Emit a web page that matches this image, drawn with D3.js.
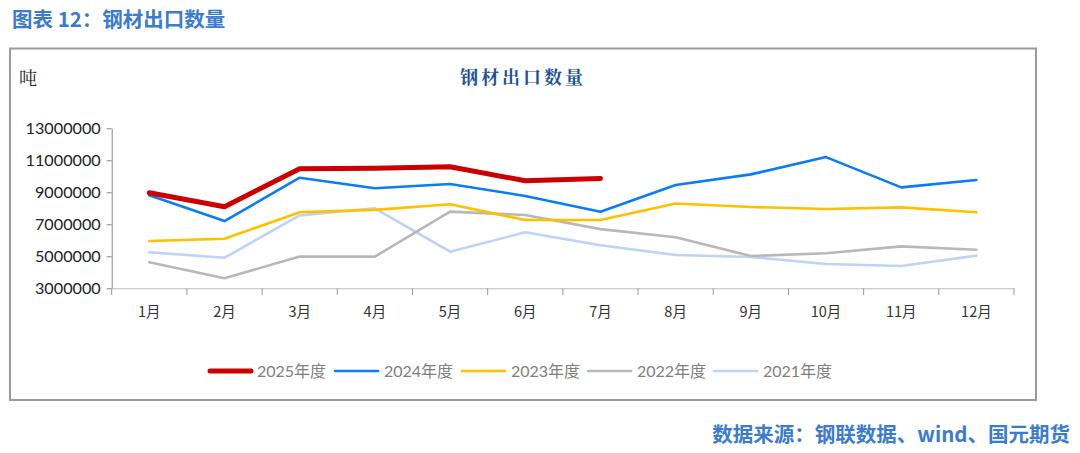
<!DOCTYPE html>
<html><head><meta charset="utf-8">
<script src="https://cdn.jsdelivr.net/npm/d3@7"></script>
<style>body{margin:0;background:#fff}svg{display:block}</style>
</head><body>
<svg id="c" width="1080" height="453"></svg>
<script>
const months = ["1月","2月","3月","4月","5月","6月","7月","8月","9月","10月","11月","12月"];
const yTicks = [3000000,5000000,7000000,9000000,11000000,13000000];
const s2025 = [8970000,8100000,10470000,10500000,10600000,9720000,9870000];
const s2024 = [8810000,7200000,9910000,9250000,9520000,8770000,7790000,9460000,10120000,11200000,9310000,9770000];
const s2023 = [5960000,6100000,7750000,7900000,8250000,7270000,7270000,8300000,8080000,7960000,8060000,7750000];
const s2022 = [4630000,3630000,4980000,4980000,7790000,7580000,6700000,6190000,5020000,5190000,5620000,5410000];
const s2021 = [5250000,4910000,7560000,8000000,5290000,6500000,5690000,5080000,4960000,4520000,4390000,5040000];
const seriesNames = ["2025年度","2024年度","2023年度","2022年度","2021年度"];
const seriesColors = ["#cc0000","#0a7cf5","#ffc000","#b8b8b8","#bfd2f8"];
const seriesWidths = [5,2.6,2.6,2.6,2.6];
const seriesData = [s2025,s2024,s2023,s2022,s2021];

const svg = d3.select("#c");
// header title
svg.append("text").attr("x",12).attr("y",27).attr("font-family","Noto Sans CJK SC").attr("font-weight","bold")
  .attr("font-size",20.5).attr("fill","#3b7bd0").text("图表 12：钢材出口数量");
// frame
svg.append("rect").attr("x",10).attr("y",48.5).attr("width",1026).attr("height",351.5)
  .attr("fill","none").attr("stroke","#9a9a9a").attr("stroke-width",2);
// unit
svg.append("text").attr("x",19).attr("y",85).attr("font-family","Noto Serif CJK SC, Noto Sans CJK SC").attr("font-size",18).attr("fill","#222").text("吨");
// chart title
svg.append("text").attr("x",460).attr("y",84).attr("font-family","Noto Serif CJK SC, Noto Sans CJK SC").attr("font-weight","bold")
  .attr("font-size",18).attr("letter-spacing",3).attr("fill","#1c4f9c").text("钢材出口数量");

const x = d3.scaleBand().domain(months).range([111.7,1014]);
const y = d3.scaleLinear().domain([3000000,13000000]).range([288.3,128.3]);

const gy = svg.append("g").attr("transform","translate(111.7,0)")
  .call(d3.axisLeft(y).tickValues(yTicks).tickFormat(d3.format("d")).tickSize(5).tickSizeOuter(0));
gy.select(".domain").attr("stroke","#888");
gy.selectAll(".tick line").attr("stroke","#888");
gy.selectAll(".tick text").attr("font-family","Lato, Open Sans").attr("font-size",16.2).attr("fill","#222").attr("x",-11);

const gx = svg.append("g").attr("transform","translate(0,288.3)")
  .call(d3.axisBottom(x).tickSize(0).tickSizeOuter(0));
gx.select(".domain").attr("stroke","#bbb");
gx.selectAll(".tick text").attr("font-family","Noto Sans CJK SC").attr("font-size",14.5).attr("fill","#333").attr("dy",0).attr("y",29);
// band boundary ticks
const bounds = months.map(m=>x(m)).concat([x.range()[1]]);
svg.append("g").selectAll("line").data(bounds).join("line")
  .attr("x1",d=>d).attr("x2",d=>d).attr("y1",288.3).attr("y2",295).attr("stroke","#999");

const line = d3.line().x((d,i)=>x(months[i])+x.bandwidth()/2).y(d=>y(d));
for (let k=seriesData.length-1;k>=0;k--){
  svg.append("path").datum(seriesData[k]).attr("d",line).attr("fill","none")
    .attr("stroke",seriesColors[k]).attr("stroke-width",seriesWidths[k])
    .attr("stroke-linejoin","round").attr("stroke-linecap","round");
}

// legend
const legX = [208,335,462,588,714];
const lg = svg.append("g");
seriesNames.forEach((n,i)=>{
  lg.append("line").attr("x1",legX[i]+(i==0?2:0)).attr("x2",legX[i]+43).attr("y1",371).attr("y2",371)
    .attr("stroke",seriesColors[i]).attr("stroke-width",seriesWidths[i]).attr("stroke-linecap","round");
  lg.append("text").attr("x",legX[i]+49).attr("y",377).attr("font-family","Lato, Noto Sans CJK SC").attr("font-size",16)
    .attr("fill","#808080").text(n);
});

// footer
svg.append("text").attr("x",1070).attr("y",442).attr("text-anchor","end").attr("font-family","Noto Sans CJK SC")
  .attr("font-weight","bold").attr("font-size",20.5).attr("fill","#3b7bd0").text("数据来源：钢联数据、wind、国元期货");
</script>
</body></html>
